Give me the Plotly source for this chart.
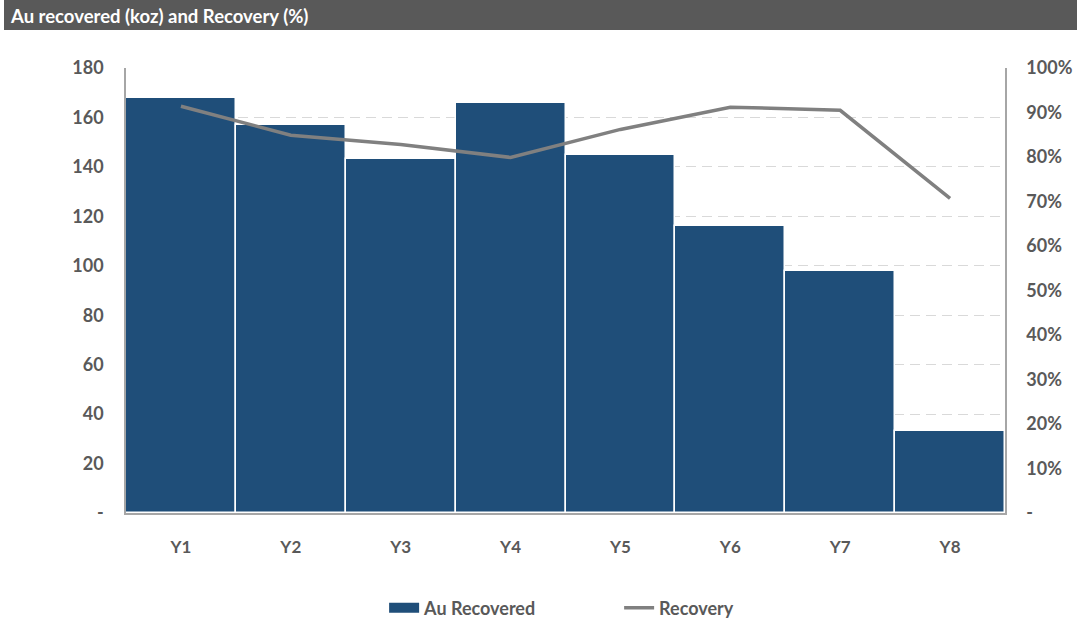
import plotly.graph_objects as go

categories = ["Y1", "Y2", "Y3", "Y4", "Y5", "Y6", "Y7", "Y8"]
au_recovered = [168, 157, 143, 166, 145, 116, 98, 33]
recovery = [0.914, 0.849, 0.828, 0.799, 0.862, 0.912, 0.905, 0.707]
left_ticks = [0, 20, 40, 60, 80, 100, 120, 140, 160, 180]
left_text = ["-", "20", "40", "60", "80", "100", "120", "140", "160", "180"]
right_ticks = [0, 0.1, 0.2, 0.3, 0.4, 0.5, 0.6, 0.7, 0.8, 0.9, 1.0]
right_text = ["-", "10%", "20%", "30%", "40%", "50%", "60%", "70%", "80%", "90%", "100%"]

FONT = "Lato, 'Open Sans', sans-serif"
GRAY = "#595959"
BLUE = "#1f4e79"
LINE = "#808080"

fig = go.Figure()
fig.add_trace(go.Bar(
    x=categories, y=au_recovered, name="Au Recovered",
    marker=dict(color=BLUE, line=dict(color="white", width=1.5)),
    yaxis="y", showlegend=False,
))
fig.add_trace(go.Scatter(
    x=categories, y=recovery, name="Recovery", mode="lines",
    line=dict(color=LINE, width=3.5),
    yaxis="y2", showlegend=False,
))
# legend entries (bar drawn as a wide rectangle like the reference)
fig.add_trace(go.Scatter(
    x=[None], y=[None], name="Au Recovered", mode="lines",
    line=dict(color=BLUE, width=10), yaxis="y",
))
fig.add_trace(go.Scatter(
    x=[None], y=[None], name="Recovery", mode="lines",
    line=dict(color=LINE, width=3.5), yaxis="y2",
))

fig.update_layout(
    width=1077, height=623,
    margin=dict(l=126, r=72, t=68, b=110, autoexpand=False),
    paper_bgcolor="white", plot_bgcolor="white",
    bargap=0,
    font=dict(family=FONT, size=15, color=GRAY),
    xaxis=dict(
        showgrid=False, showline=True, linecolor="#a6a6a6", linewidth=1.5,
        tickfont=dict(family=FONT, size=17, color=GRAY, weight="bold"),
        ticks="", ticklabelstandoff=18, automargin=False,
    ),
    yaxis=dict(
        range=[0, 180], tickvals=left_ticks, ticktext=left_text,
        showgrid=True, gridcolor="#d9d9d9", griddash="10px,6px", gridwidth=1,
        showline=True, linecolor="#a6a6a6", linewidth=1.5,
        zeroline=False,
        tickfont=dict(family=FONT, size=18, color=GRAY, weight="bold"),
        ticks="", ticklabelstandoff=17, automargin=False,
    ),
    yaxis2=dict(
        range=[0, 1], tickvals=right_ticks, ticktext=right_text,
        overlaying="y", side="right",
        showgrid=False, showline=True, linecolor="#a6a6a6", linewidth=1.5,
        zeroline=False,
        tickfont=dict(family=FONT, size=18, color=GRAY, weight="bold"),
        ticks="", ticklabelstandoff=16, automargin=False,
    ),
    legend=dict(
        orientation="h", x=0.561, xanchor="center",
        yref="container", y=(623 - 608) / 623, yanchor="middle",
        font=dict(family=FONT, size=18, color=GRAY, weight="bold"),
        traceorder="normal", itemwidth=30, entrywidth=190,
    ),
    shapes=[dict(
        type="rect", xref="paper", yref="paper",
        x0=(4 - 126) / 879, x1=(1077 - 126) / 879,
        y0=(513 - 30) / 445, y1=(513 - 0) / 445,
        fillcolor="#595959", line=dict(width=0), layer="above",
    )],
    annotations=[dict(
        text="Au recovered (koz) and Recovery (%)",
        xref="paper", yref="paper",
        x=(8 - 126) / 879, xanchor="left",
        y=(513 - 16) / 445, yanchor="middle",
        showarrow=False,
        font=dict(family=FONT, size=18.5, color="white", weight="bold"),
    )],
    showlegend=True,
)

fig.write_html("out.html")
